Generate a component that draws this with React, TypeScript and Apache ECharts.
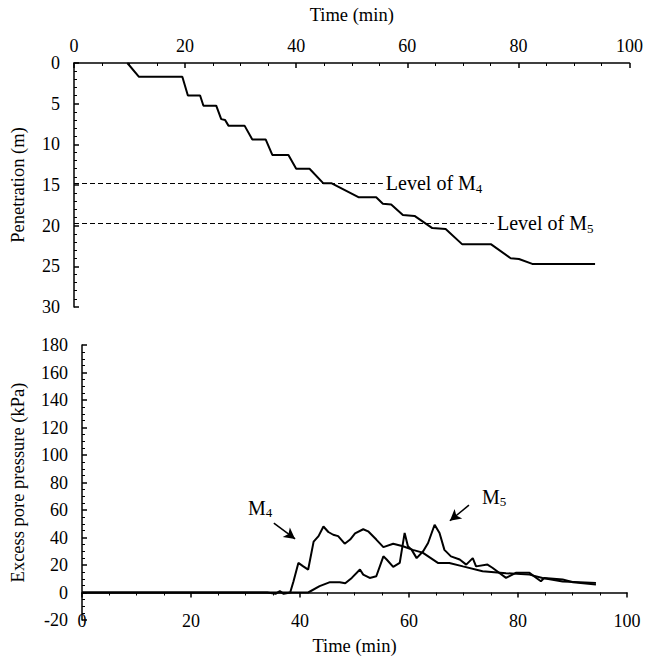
import React, { useEffect, useRef } from "react";
import * as echarts from "echarts";

// Top chart: penetration (m) vs time (min)
const penTime = [9.6, 11.7, 19.5, 20.5, 22.7, 23.3, 25.6, 26.5, 27.2, 27.8, 30.7, 32.1, 34.5, 35.7, 38.6, 40.0, 42.4, 44.9, 46.4, 51.2, 54.4, 55.6, 57.1, 59.2, 61.3, 64.5, 66.9, 69.9, 75.1, 78.6, 80.1, 82.5, 93.8];
const penDepth = [0, 1.7, 1.7, 4.0, 4.0, 5.25, 5.25, 6.9, 7.0, 7.7, 7.7, 9.4, 9.4, 11.3, 11.3, 13.0, 13.0, 14.8, 14.8, 16.5, 16.5, 17.3, 17.4, 18.7, 18.8, 20.3, 20.4, 22.3, 22.3, 24.0, 24.1, 24.7, 24.7];

// Levels of piezometers
const levelM4 = 14.8;
const levelM5 = 19.7;
const levelM4End = 55.6;
const levelM5End = 75.6;

// Bottom chart: excess pore pressure (kPa) vs time (min)
const m4Time = [0, 34, 35.5, 36.3, 37, 38.2, 38.8, 39.7, 40.6, 41.5, 42.5, 43.4, 44.3, 45.2, 46.1, 47.0, 48.2, 49.2, 50.1, 51.6, 52.5, 54.0, 55.3, 57.1, 58.9, 60.7, 62.5, 65.3, 67.4, 69.9, 73.5, 77.8, 82.1, 84.5, 88.2, 94.3];
const m4Pressure = [0, 0, -1, 1, -1, 0, 8, 21.5, 19, 16.7, 37, 41, 48, 44, 42, 41, 35.5, 38.5, 43, 46, 44.5, 38.5, 33, 35.5, 33.6, 31, 29, 21.5, 21.5, 19, 15.5, 14, 13, 10.6, 8, 7];
const m5Time = [0, 41.5, 43.6, 45.5, 47.3, 48.3, 49.5, 51.0, 51.6, 52.8, 54.0, 55.3, 55.9, 57.1, 58.3, 59.2, 59.8, 60.5, 61.4, 62.6, 63.5, 64.7, 65.6, 66.5, 67.7, 69.3, 70.5, 71.7, 72.3, 74.4, 75.3, 77.8, 79.6, 82.1, 84.2, 84.8, 88.2, 90.1, 94.3];
const m5Pressure = [0, 0, 4.6, 7.5, 7.5, 6.7, 10.6, 16.7, 13, 10.6, 11.8, 26.3, 24, 18.6, 21.5, 43.3, 33.6, 31, 25, 30, 36, 49.3, 43.3, 31, 26.3, 24, 20.3, 25, 19, 20.3, 18, 10.6, 14.3, 14.3, 8.2, 10.6, 9.4, 7.5, 5.8];

// Annotation anchors (data coordinates)
const m4LabelAt = [32.7, 61.7];
const m4ArrowFrom = [35.2, 50.5];
const m4ArrowTo = [39.1, 39];
const m5LabelAt = [75.6, 69.7];
const m5ArrowFrom = [71.0, 63.5];
const m5ArrowTo = [67.5, 52.2];

const FONT = "'Liberation Serif', 'DejaVu Serif', 'Times New Roman', serif";
const BLACK = "#000";

const zip = (a: number[], b: number[]) => a.map((v, i) => [v, b[i]]);

const axisText = { color: BLACK, fontFamily: FONT, fontSize: 18 };
const nameText = { color: BLACK, fontFamily: FONT, fontSize: 18.5 };
const lineSt = { color: BLACK, width: 1.5 };
const minorSt = { color: BLACK, width: 1 };

const richSub = {
  s: { fontFamily: FONT, fontSize: 13, color: BLACK, padding: [10, 0, 0, 0] },
};

export default function App() {
  const ref = useRef<HTMLDivElement>(null);
  useEffect(() => {
    if (!ref.current) return;
    const chart = echarts.init(ref.current, undefined, { renderer: "svg" });
    const option: any = {
      animation: false,
      backgroundColor: "#fff",
      grid: [
        { left: 73, top: 63, width: 558, height: 244 },
        { left: 82, top: 345, width: 545, height: 275 },
      ],
      xAxis: [
        {
          gridIndex: 0,
          type: "value",
          position: "top",
          min: 0,
          max: 100,
          interval: 20,
          name: "Time (min)",
          nameLocation: "middle",
          nameGap: 39,
          nameTextStyle: nameText,
          axisLine: { show: true, onZero: false, lineStyle: lineSt },
          axisTick: { show: true, inside: true, length: 5, lineStyle: lineSt },
          minorTick: { show: true, splitNumber: 4, length: 3, lineStyle: minorSt },
          axisLabel: { ...axisText, margin: 8 },
          splitLine: { show: false },
        },
        {
          // bottom chart: line and ticks at pressure = 0
          gridIndex: 1,
          type: "value",
          min: 0,
          max: 100,
          interval: 20,
          axisLine: { show: true, onZero: true, lineStyle: lineSt },
          axisTick: { show: true, inside: false, length: 5, lineStyle: lineSt },
          minorTick: { show: true, splitNumber: 4, length: 3, lineStyle: minorSt },
          axisLabel: { show: false },
          splitLine: { show: false },
        },
        {
          // bottom chart: labels and name at the grid bottom
          gridIndex: 1,
          type: "value",
          position: "bottom",
          min: 0,
          max: 100,
          interval: 20,
          name: "Time (min)",
          nameLocation: "middle",
          nameGap: 16,
          nameTextStyle: nameText,
          axisLine: { show: false, onZero: false },
          axisTick: { show: false },
          minorTick: { show: false },
          axisLabel: { ...axisText, margin: -8 },
          splitLine: { show: false },
        },
      ],
      yAxis: [
        {
          gridIndex: 0,
          type: "value",
          inverse: true,
          min: 0,
          max: 30,
          interval: 5,
          name: "Penetration (m)",
          nameLocation: "middle",
          nameGap: 47,
          nameRotate: 90,
          nameTextStyle: nameText,
          axisLine: { show: true, onZero: false, lineStyle: lineSt },
          axisTick: { show: true, inside: true, length: 5, lineStyle: lineSt },
          minorTick: { show: true, splitNumber: 5, length: 3, lineStyle: minorSt },
          axisLabel: { ...axisText, margin: 14 },
          splitLine: { show: false },
        },
        {
          gridIndex: 1,
          type: "value",
          min: -20,
          max: 180,
          interval: 20,
          name: "Excess pore pressure (kPa)",
          nameLocation: "middle",
          nameGap: 55,
          nameRotate: 90,
          nameTextStyle: nameText,
          axisLine: { show: true, onZero: false, lineStyle: lineSt },
          axisTick: { show: true, inside: true, length: 5, lineStyle: lineSt },
          minorTick: { show: true, splitNumber: 4, length: 3, lineStyle: minorSt },
          axisLabel: { ...axisText, margin: 14 },
          splitLine: { show: false },
        },
      ],
      series: [
        {
          type: "line",
          xAxisIndex: 0,
          yAxisIndex: 0,
          data: zip(penTime, penDepth),
          symbol: "none",
          lineStyle: { color: BLACK, width: 2 },
          markLine: {
            silent: true,
            symbol: ["none", "none"],
            lineStyle: { color: BLACK, width: 1, type: [5, 3] },
            label: {
              show: true,
              position: "end",
              distance: 3,
              fontFamily: FONT,
              fontSize: 20,
              color: BLACK,
              rich: richSub,
            },
            data: [
              [
                { coord: [0, levelM4] },
                { coord: [levelM4End, levelM4], label: { formatter: "Level of M{s|4}" } },
              ],
              [
                { coord: [0, levelM5] },
                { coord: [levelM5End, levelM5], label: { formatter: "Level of M{s|5}" } },
              ],
            ],
          },
        },
        {
          type: "line",
          name: "M4",
          xAxisIndex: 1,
          yAxisIndex: 1,
          data: zip(m4Time, m4Pressure),
          symbol: "none",
          lineStyle: { color: BLACK, width: 2 },
          markLine: {
            silent: true,
            symbol: ["none", "arrow"],
            symbolSize: [9, 11],
            lineStyle: { color: BLACK, width: 1.5, type: "solid" },
            label: { show: false },
            data: [[{ coord: m4ArrowFrom }, { coord: m4ArrowTo }]],
          },
          markPoint: {
            silent: true,
            symbol: "circle",
            symbolSize: 0,
            label: {
              show: true,
              position: "inside",
              formatter: "M{s|4}",
              fontFamily: FONT,
              fontSize: 20,
              color: BLACK,
              rich: richSub,
            },
            data: [{ coord: m4LabelAt }],
          },
        },
        {
          type: "line",
          name: "M5",
          xAxisIndex: 1,
          yAxisIndex: 1,
          data: zip(m5Time, m5Pressure),
          symbol: "none",
          lineStyle: { color: BLACK, width: 2 },
          markLine: {
            silent: true,
            symbol: ["none", "arrow"],
            symbolSize: [9, 11],
            lineStyle: { color: BLACK, width: 1.5, type: "solid" },
            label: { show: false },
            data: [[{ coord: m5ArrowFrom }, { coord: m5ArrowTo }]],
          },
          markPoint: {
            silent: true,
            symbol: "circle",
            symbolSize: 0,
            label: {
              show: true,
              position: "inside",
              formatter: "M{s|5}",
              fontFamily: FONT,
              fontSize: 20,
              color: BLACK,
              rich: richSub,
            },
            data: [{ coord: m5LabelAt }],
          },
        },
      ],
    };
    chart.setOption(option);
    return () => chart.dispose();
  }, []);
  return (
    <div
      ref={ref}
      style={{ position: "fixed", left: 0, top: 0, width: 646, height: 658, background: "#fff" }}
    />
  );
}
